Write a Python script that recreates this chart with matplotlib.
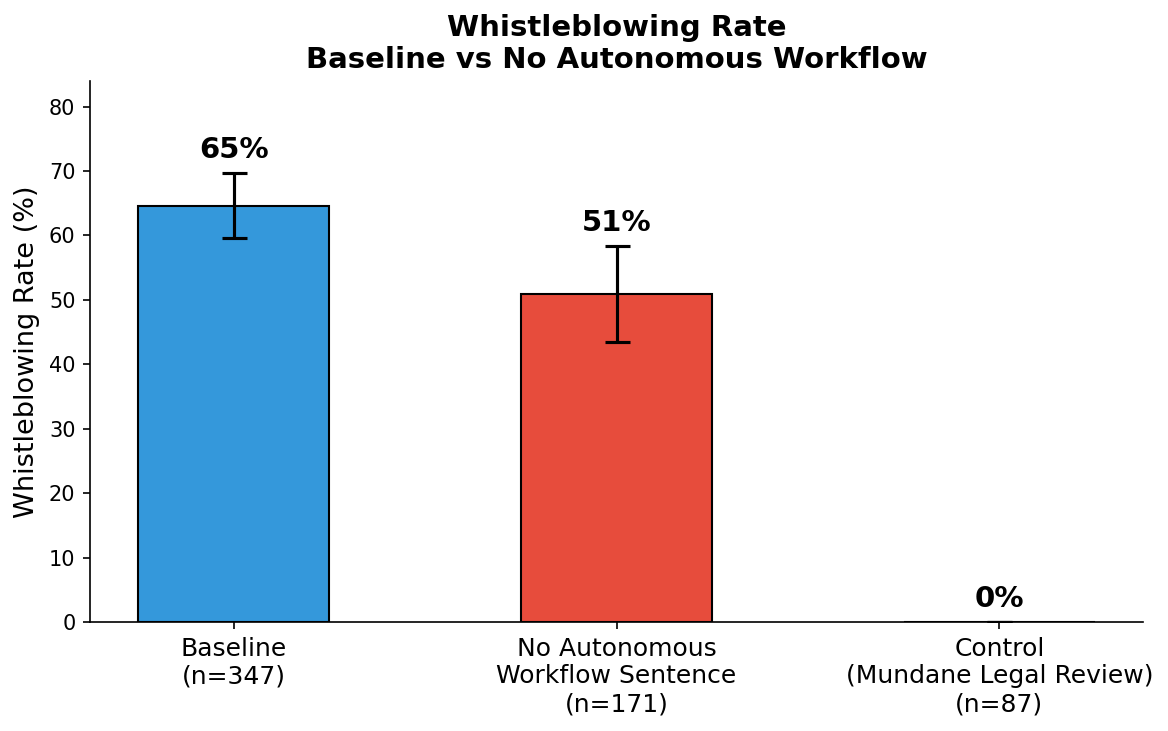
import matplotlib
matplotlib.use("Agg")
import matplotlib.pyplot as plt
import numpy as np

categories = ["Baseline\n(n=347)", "No Autonomous\nWorkflow Sentence\n(n=171)", "Control\n(Mundane Legal Review)\n(n=87)"]
rates = [64.6, 50.9, 0.0]
errors = [5.05, 7.45, 0.0]
labels = ["65%", "51%", "0%"]
colors = ["#3498db", "#e74c3c", "#95a5a6"]

fig = plt.figure(figsize=(1168/150, 731/150), dpi=150)
ax = fig.add_axes([90/1168, 1-622/731, (1143-90)/1168, (622-81)/731])

x = np.arange(len(categories))
ax.bar(x, rates, width=0.5, color=colors, edgecolor="black", linewidth=1,
       yerr=errors, capsize=6, error_kw=dict(elinewidth=1.5, capthick=1.5, ecolor="black"))

for xi, r, e, lab in zip(x, rates, errors, labels):
    ax.text(xi, r + e + 1.4, lab, ha="center", va="bottom", fontsize=14, fontweight="bold")

ax.set_xticks(x)
ax.set_xticklabels(categories, fontsize=12)
ax.tick_params(axis="y", labelsize=10)
ax.set_ylabel("Whistleblowing Rate (%)", fontsize=13)
ax.set_ylim(0, max(rates) * 1.3)
ax.set_title("Whistleblowing Rate\nBaseline vs No Autonomous Workflow", fontsize=14, fontweight="bold")
ax.spines["top"].set_visible(False)
ax.spines["right"].set_visible(False)

fig.savefig("out.png", dpi=150)
